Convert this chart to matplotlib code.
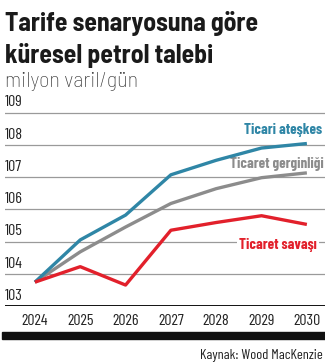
import matplotlib.pyplot as plt
from matplotlib.patches import Rectangle
from matplotlib.transforms import blended_transform_factory

# Oil demand by tariff scenario, million barrels/day
years = [2024, 2025, 2026, 2027, 2028, 2029, 2030]
truce = [103.74, 105.05, 105.82, 107.07, 107.52, 107.90, 108.04]
tension = [103.74, 104.68, 105.45, 106.18, 106.64, 106.98, 107.13]
war = [103.74, 104.22, 103.65, 105.35, 105.59, 105.80, 105.53]
y_ticks = [103, 104, 105, 106, 107, 108, 109]

blue = "#2f86a6"
grey = "#8c8c8c"
red = "#e2202b"
narrow = ["Barlow Condensed", "DejaVu Sans"]
semi = ["Barlow Semi Condensed", "DejaVu Sans"]

fig = plt.figure(figsize=(3.25, 3.64), dpi=100)
ax = fig.add_axes([5 / 325, 58 / 364, 320 / 325, 206 / 364])
ax.set_xlim(2023.34, 2030.40)
ax.set_ylim(103, 109.39)
ax.axis("off")

# gridlines with labels sitting just above them
lab = blended_transform_factory(fig.transFigure, ax.transData)
for v in y_ticks[1:]:
    ax.axhline(v, color="#9a9a9a", lw=0.9, zorder=1)
for v in y_ticks:
    ax.text(5 / 325, v + 0.1, str(v), transform=lab, family=narrow,
            fontsize=11.5, color="#222222", ha="left", va="bottom")
ax.axhline(103, color="#111111", lw=1.4, zorder=2)

for y in years:
    ax.text(y, 102.55, str(y), family=narrow, fontsize=11.5, color="#222222",
            ha="center", va="center", clip_on=False)

ax.plot(years, tension, color=grey, lw=2.4, zorder=3, solid_capstyle="butt")
ax.plot(years, truce, color=blue, lw=2.4, zorder=4, solid_capstyle="butt")
ax.plot(years, war, color=red, lw=2.4, zorder=5, solid_capstyle="butt")

ax.text(322 / 325, 108.45, "Ticari ateşkes", transform=lab, family=narrow,
        fontsize=10.8, weight="bold", color=blue, ha="right", va="center")
ax.text(324 / 325, 107.42, "Ticaret gerginliği", transform=lab, family=narrow,
        fontsize=10.8, weight="bold", color=grey, ha="right", va="center")
ax.text(317 / 325, 104.88, "Ticaret savaşı", transform=lab, family=narrow,
        fontsize=10.8, weight="bold", color=red, ha="right", va="center",
        bbox=dict(facecolor="white", edgecolor="none", pad=1.5), zorder=6)

fig.text(5 / 325, 1 - 31 / 364, "Tarife senaryosuna göre", family=semi,
         fontsize=18.5, weight="bold", color="#1a1a1a", ha="left", va="baseline")
fig.text(5 / 325, 1 - 63 / 364, "küresel petrol talebi", family=semi,
         fontsize=18.5, weight="bold", color="#1a1a1a", ha="left", va="baseline")
fig.text(5 / 325, 1 - 87 / 364, "milyon varil/gün", family=semi,
         fontsize=16, weight="light", color="#333333", ha="left", va="baseline")

fig.patches.append(Rectangle((2 / 325, 1 - 338.5 / 364), 323 / 325, 7 / 364,
                             transform=fig.transFigure, color="#111111"))
fig.text(323 / 325, 1 - 355 / 364, "Kaynak: Wood MacKenzie", family=narrow,
         fontsize=10.3, color="#222222", ha="right", va="center")

fig.savefig("out.png", dpi=100)
